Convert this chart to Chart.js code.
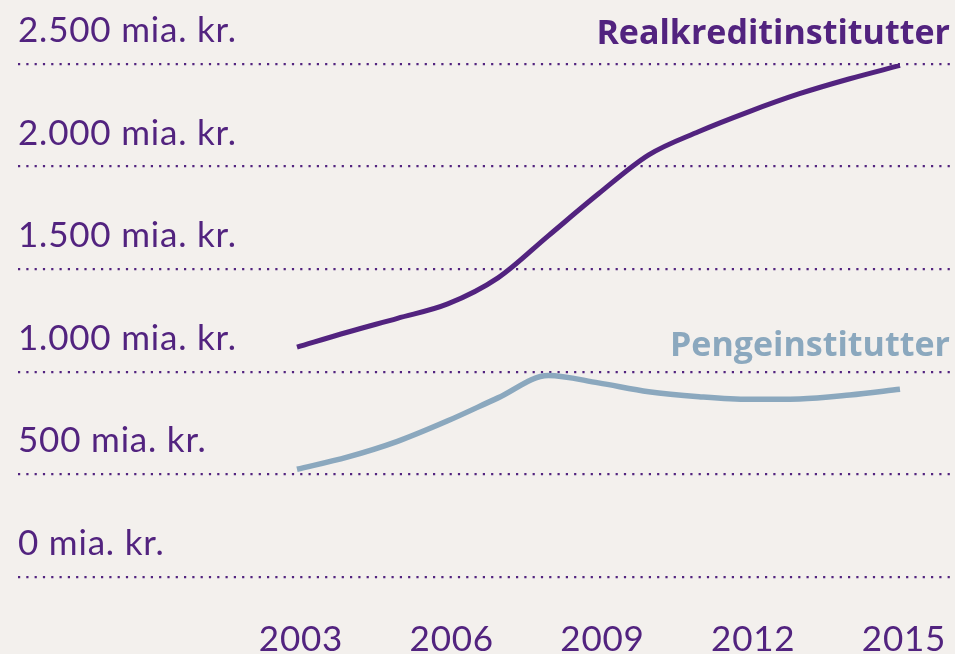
<!DOCTYPE html>
<html>
<head>
<meta charset="utf-8">
<script src="https://cdn.jsdelivr.net/npm/chart.js@4/dist/chart.umd.min.js"></script>
<style>
    html, body { margin: 0; padding: 0; background: #f3f0ed; }
    #wrap { width: 955px; height: 654px; position: relative; }
</style>
</head>
<body>
<div id="wrap"><canvas id="chart" width="955" height="654"></canvas></div>
<script>
// data (mia. kr.)
const years = [2003, 2004, 2005, 2006, 2007, 2008, 2009, 2010, 2011, 2012, 2013, 2014, 2015];
const realkredit = [1119, 1192, 1260, 1330, 1457, 1662, 1867, 2057, 2171, 2268, 2355, 2428, 2493];
const penge = [524, 583, 660, 760, 872, 981, 945, 902, 878, 865, 867, 886, 914];
const yearTicks = [2003, 2006, 2009, 2012, 2015];
const valueTicks = [0, 500, 1000, 1500, 2000, 2500];
const seriesNames = ['Realkreditinstitutter', 'Pengeinstitutter'];

const purple = '#52237f';
const blue = '#8ba8be';

const toPoints = (vals) => years.map((y, i) => ({ x: y, y: vals[i] }));

// slightly wider tracking for all the text
const tracking = {
    id: 'tracking',
    beforeDraw(chart) { chart.ctx.letterSpacing = '0.8px'; },
    afterDraw(chart) { chart.ctx.letterSpacing = '0px'; }
};

// series names written at the right edge
const seriesLabels = {
    id: 'seriesLabels',
    afterDraw(chart) {
        const ctx = chart.ctx;
        ctx.save();
        ctx.letterSpacing = '0px';
        ctx.font = 'bold 34px "Open Sans"';
        ctx.textAlign = 'right';
        ctx.textBaseline = 'alphabetic';
        ctx.fillStyle = purple;
        ctx.fillText(seriesNames[0], 950, 44);
        ctx.fillStyle = blue;
        ctx.fillText(seriesNames[1], 950, 356);
        ctx.restore();
    }
};

new Chart(document.getElementById('chart'), {
    type: 'line',
    data: {
        datasets: [
            {
                label: seriesNames[0],
                data: toPoints(realkredit),
                borderColor: purple,
                borderWidth: 5,
                pointRadius: 0,
                cubicInterpolationMode: 'monotone',
                fill: false
            },
            {
                label: seriesNames[1],
                data: toPoints(penge),
                borderColor: blue,
                borderWidth: 5.5,
                pointRadius: 0,
                cubicInterpolationMode: 'monotone',
                fill: false
            }
        ]
    },
    options: {
        responsive: false,
        animation: false,
        layout: { padding: { left: 18, top: 64, right: 0, bottom: 0 } },
        plugins: {
            legend: { display: false },
            tooltip: { enabled: false }
        },
        scales: {
            x: {
                type: 'linear',
                min: 1997.448,
                max: 2016.095,
                afterBuildTicks: (scale) => { scale.ticks = yearTicks.map(v => ({ value: v })); },
                afterFit: (scale) => {
                    scale.height = 77.3;
                    scale.paddingLeft = 0;
                    scale.paddingRight = 0;
                },
                grid: { display: false, drawTicks: false },
                border: { display: false },
                ticks: {
                    color: purple,
                    font: { family: 'Lato', size: 35, lineHeight: 0.9 },
                    padding: 47.5,
                    labelOffset: 4,
                    maxRotation: 0,
                    autoSkip: false,
                    callback: (v) => String(v)
                }
            },
            y: {
                min: 0,
                max: 2500,
                afterBuildTicks: (scale) => { scale.ticks = valueTicks.map(v => ({ value: v })); },
                grid: { color: purple, lineWidth: 2.2, drawTicks: false },
                border: { display: false, dash: [2.2, 6.1] },
                ticks: {
                    mirror: true,
                    padding: 0,
                    labelOffset: -33,
                    color: purple,
                    font: { family: 'Lato', size: 35 },
                    callback: (v) => v.toLocaleString('da-DK') + ' mia. kr.'
                }
            }
        }
    },
    plugins: [tracking, seriesLabels]
});
</script>
</body>
</html>
